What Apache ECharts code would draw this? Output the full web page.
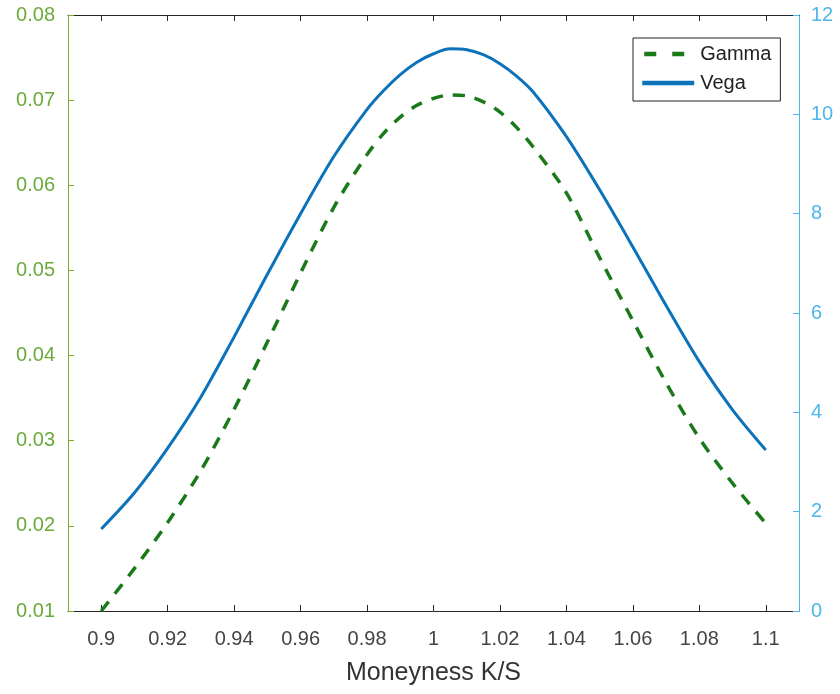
<!DOCTYPE html>
<html>
<head>
<meta charset="utf-8">
<script src="https://cdn.jsdelivr.net/npm/echarts@6/dist/echarts.min.js"></script>
<style>
html,body{margin:0;padding:0;background:#fff;}
#chart{width:840px;height:694px;}
</style>
</head>
<body>
<div id="chart"></div>
<script>
const moneyness = [0.90,0.91,0.92,0.93,0.94,0.95,0.96,0.97,0.98,0.985,0.99,0.995,1.00,1.005,1.01,1.015,1.02,1.025,1.03,1.04,1.05,1.06,1.07,1.08,1.09,1.10];
const gamma = [0.0100,0.0150,0.0204,0.0265,0.0337,0.0416,0.0497,0.0574,0.0636,0.0661,0.0680,0.0694,0.0702,0.0706,0.0705,0.0698,0.0686,0.0668,0.0645,0.0591,0.0515,0.0441,0.0368,0.0303,0.0250,0.0203];
const vega = [1.65,2.38,3.28,4.31,5.52,6.78,8.00,9.15,10.10,10.48,10.80,11.05,11.22,11.32,11.30,11.20,11.02,10.77,10.45,9.55,8.48,7.33,6.15,5.02,4.05,3.24];
const xTicks = [0.9,0.92,0.94,0.96,0.98,1.0,1.02,1.04,1.06,1.08,1.1];
const xLabels = ['0.9','0.92','0.94','0.96','0.98','1','1.02','1.04','1.06','1.08','1.1'];

const FONT = '"Liberation Sans", Arial, sans-serif';
const leftColor = '#6AAA3A';
const leftAxisColor = '#77AC30';
const rightColor = '#4DB6EA';
const axisDark = '#262626';
const gammaColor = '#1A7A1A';
const vegaColor = '#0C72BA';

const chart = echarts.init(document.getElementById('chart'), null, {renderer:'canvas'});
const option = {
  animation: false,
  backgroundColor: '#fff',
  grid: {left: 68, right: 41, top: 15, bottom: 83, containLabel: false},
  legend: {
    left: 633, top: 38,
    orient: 'vertical',
    backgroundColor: '#fff',
    borderColor: '#222', borderWidth: 1,
    padding: [6, 9, 8, 7],
    itemGap: 9,
    itemWidth: 52, itemHeight: 14,
    itemStyle: {opacity: 0},
    textStyle: {fontFamily: FONT, fontSize: 20, color: '#222', padding: [0,0,0,1]},
    data: [
      {name: 'Gamma', lineStyle: {color: gammaColor, width: 4.5, type: [12, 16], dashOffset: -2}},
      {name: 'Vega', lineStyle: {color: vegaColor, width: 4.5, type: 'solid'}}
    ]
  },
  xAxis: [{
    type: 'value', min: 0.89, max: 1.11,
    position: 'bottom',
    name: 'Moneyness K/S', nameLocation: 'middle', nameGap: 50,
    nameTextStyle: {fontFamily: FONT, fontSize: 25, color: '#333'},
    axisLine: {show: true, onZero: false, lineStyle: {color: axisDark, width: 1}},
    axisTick: {show: true, inside: true, length: 6, customValues: xTicks, lineStyle: {color: axisDark}},
    axisLabel: {customValues: xTicks, fontFamily: FONT, fontSize: 20, color: '#444', margin: 18,
      formatter: function(v){ const i = xTicks.findIndex(t => Math.abs(t - v) < 1e-9); return i >= 0 ? xLabels[i] : ''; }},
    splitLine: {show: false}
  }, {
    type: 'value', min: 0.89, max: 1.11,
    position: 'top',
    axisLine: {show: true, onZero: false, lineStyle: {color: axisDark, width: 1}},
    axisTick: {show: true, inside: true, length: 6, customValues: xTicks, lineStyle: {color: axisDark}},
    axisLabel: {show: false},
    splitLine: {show: false}
  }],
  yAxis: [{
    type: 'value', min: 0.01, max: 0.08, interval: 0.01,
    position: 'left',
    axisLine: {show: true, onZero: false, lineStyle: {color: leftAxisColor, width: 1}},
    axisTick: {show: true, inside: true, length: 6, lineStyle: {color: leftAxisColor}},
    axisLabel: {fontFamily: FONT, fontSize: 20, color: leftColor, margin: 13,
      formatter: function(v){ return v.toFixed(2); }},
    splitLine: {show: false}
  }, {
    type: 'value', min: 0, max: 12, interval: 2,
    position: 'right',
    axisLine: {show: true, onZero: false, lineStyle: {color: rightColor, width: 1}},
    axisTick: {show: true, inside: true, length: 6, lineStyle: {color: rightColor}},
    axisLabel: {fontFamily: FONT, fontSize: 20, color: rightColor, margin: 12},
    splitLine: {show: false}
  }],
  series: [{
    name: 'Gamma', type: 'line', xAxisIndex: 0, yAxisIndex: 0,
    data: moneyness.map((m, i) => [m, gamma[i]]),
    smooth: 0.3, showSymbol: false, symbol: 'none',
    lineStyle: {color: gammaColor, width: 3.5, type: [12, 10]},
    itemStyle: {color: gammaColor}
  }, {
    name: 'Vega', type: 'line', xAxisIndex: 0, yAxisIndex: 1,
    data: moneyness.map((m, i) => [m, vega[i]]),
    smooth: 0.3, showSymbol: false, symbol: 'none',
    lineStyle: {color: vegaColor, width: 3},
    itemStyle: {color: vegaColor}
  }]
};
chart.setOption(option);
</script>
</body>
</html>
